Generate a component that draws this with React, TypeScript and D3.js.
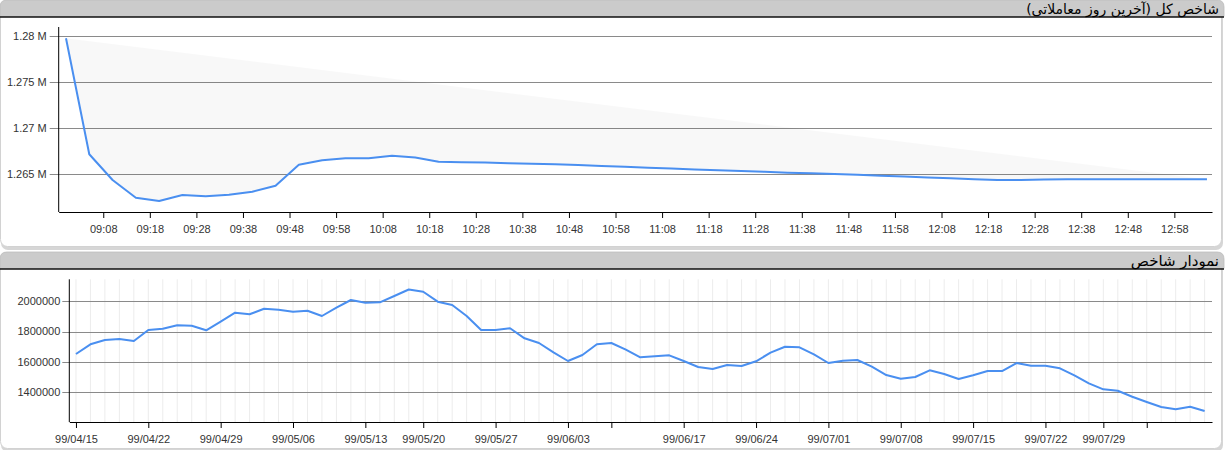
import React, { useEffect, useRef } from 'react';
import * as d3 from 'd3';

// intraday index (last trading day), one point every 5 minutes
const intradayTimes = [
  '09:00', '09:05', '09:10', '09:15', '09:20', '09:25', '09:30', '09:35', '09:40', '09:45',
  '09:50', '09:55', '10:00', '10:05', '10:10', '10:15', '10:20', '10:25', '10:30', '10:35',
  '10:40', '10:45', '10:50', '10:55', '11:00', '11:05', '11:10', '11:15', '11:20', '11:25',
  '11:30', '11:35', '11:40', '11:45', '11:50', '11:55', '12:00', '12:05', '12:10', '12:15',
  '12:20', '12:25', '12:30', '12:35', '12:40', '12:45', '12:50', '12:55', '13:00', '13:05'
];
const intradayValues = [
  1279750, 1267170, 1264380, 1262460, 1262100, 1262750, 1262610, 1262780, 1263110, 1263760,
  1266040, 1266520, 1266740, 1266740, 1267020, 1266820, 1266370, 1266310, 1266270, 1266210,
  1266150, 1266090, 1266000, 1265910, 1265810, 1265720, 1265630, 1265530, 1265430, 1265350,
  1265270, 1265180, 1265110, 1265030, 1264940, 1264840, 1264750, 1264650, 1264560, 1264470,
  1264380, 1264380, 1264430, 1264450, 1264450, 1264450, 1264450, 1264450, 1264450, 1264450
];
const intradayTickLabels = [
  '09:08', '09:18', '09:28', '09:38', '09:48', '09:58', '10:08', '10:18', '10:28', '10:38',
  '10:48', '10:58', '11:08', '11:18', '11:28', '11:38', '11:48', '11:58', '12:08', '12:18',
  '12:28', '12:38', '12:48', '12:58'
];
const intradayYTicks = [1265000, 1270000, 1275000, 1280000];

// daily index, one point per trading day
const dailyValues = [
  1652500, 1716500, 1744800, 1751400, 1738200, 1810800, 1819300, 1841700, 1839100, 1808800,
  1865500, 1924800, 1914300, 1951200, 1944600, 1931400, 1938000, 1903100, 1957800, 2008600,
  1990800, 1993400, 2035000, 2078000, 2063300, 1997400, 1975600, 1903100, 1810800, 1810800,
  1822000, 1756000, 1725000, 1663700, 1606300, 1645900, 1716400, 1725000, 1680800, 1630700,
  1637300, 1643900, 1606300, 1566800, 1553600, 1580000, 1573400, 1604300, 1661100, 1700600,
  1696700, 1650000, 1593100, 1608300, 1612900, 1568700, 1514000, 1489600, 1500800, 1545000,
  1520600, 1487600, 1512000, 1540400, 1540400, 1593100, 1575300, 1575300, 1558200, 1512000,
  1459300, 1419700, 1410500, 1370900, 1335900, 1303000, 1287800, 1305000, 1276600
];
const dailyTickIndex = [0, 5, 10, 15, 20, 24, 29, 34, 37, 42, 47, 52, 57, 62, 67, 71, 74];
const dailyTickLabels = [
  '99/04/15', '99/04/22', '99/04/29', '99/05/06', '99/05/13', '99/05/20', '99/05/27', '99/06/03', '',
  '99/06/17', '99/06/24', '99/07/01', '99/07/08', '99/07/15', '99/07/22', '99/07/29', ''
];
const dailyYTicks = [1400000, 1600000, 1800000, 2000000];

const topTitle = 'شاخص کل (آخرین روز معاملاتی)';
const bottomTitle = 'نمودار شاخص';

const WIDTH = 1226;
const HEIGHT = 450;
const PANEL_W = 1222;
const LINE_COLOR = '#4a8ff0';
const GRID_COLOR = '#8a8a8a';
const TEXT_COLOR = '#333';
const FONT = '"Liberation Sans", Arial, sans-serif';

export default function App() {
  const svgRef = useRef<SVGSVGElement>(null);

  useEffect(() => {
    if (!svgRef.current) return;
    const svg = d3.select(svgRef.current);
    svg.selectAll('*').remove();

    const drawPanel = (y0: number, y1: number, title: string, size: number) => {
      const g = svg.append('g');
      // shadow
      g.append('rect')
        .attr('x', 1).attr('y', y0 + 3)
        .attr('width', PANEL_W).attr('height', y1 - y0)
        .attr('rx', 7)
        .attr('fill', '#d6d6d6');
      // body
      g.append('rect')
        .attr('x', 0.5).attr('y', y0 + 0.5)
        .attr('width', PANEL_W - 1).attr('height', y1 - y0 - 1)
        .attr('rx', 7)
        .attr('fill', '#fff')
        .attr('stroke', '#d2d2d2');
      // header
      const hh = 16.5;
      const r = 7;
      g.append('path')
        .attr('d', `M0,${y0 + hh} L0,${y0 + r} Q0,${y0} ${r},${y0} L${PANEL_W + 2 - r},${y0} Q${PANEL_W + 2},${y0} ${PANEL_W + 2},${y0 + r} L${PANEL_W + 2},${y0 + hh} Z`)
        .attr('fill', '#cbcbcb')
        .attr('stroke', '#bdbdbd')
        .attr('stroke-width', 0.8);
      g.append('line')
        .attr('x1', 0).attr('x2', PANEL_W + 2)
        .attr('y1', y0 + hh + 0.5).attr('y2', y0 + hh + 0.5)
        .attr('stroke', '#111')
        .attr('stroke-width', 1.6);
      g.append('text')
        .attr('x', PANEL_W - 3)
        .attr('y', y0 + 13.5)
        .attr('text-anchor', 'start')
        .attr('direction', 'rtl')
        .attr('font-family', '"DejaVu Sans", sans-serif')
        .attr('font-size', `${size}px`)
        .attr('fill', '#000')
        .text(title);
    };

    drawPanel(0, 247, topTitle, 14);
    drawPanel(252, 449, bottomTitle, 15);

    // ---------- intraday chart ----------
    const parseT = d3.timeParse('%H:%M');
    const parseTs = d3.timeParse('%H:%M:%S');
    const top = { left: 58.7, right: 1212, top: 27, bottom: 212 };

    const x1 = d3.scaleTime()
      .domain([parseTs('08:58:26') as Date, parseTs('13:06:05') as Date])
      .range([top.left, top.right]);
    const y1 = d3.scaleLinear()
      .domain([1260911, 1280976])
      .range([top.bottom, top.top]);

    const g1 = svg.append('g');

    // grid
    g1.selectAll('.hgrid')
      .data(intradayYTicks)
      .enter()
      .append('line')
      .attr('x1', top.left - 9)
      .attr('x2', top.right)
      .attr('y1', d => Math.round(y1(d)) + 0.5)
      .attr('y2', d => Math.round(y1(d)) + 0.5)
      .attr('stroke', GRID_COLOR)
      .attr('stroke-width', 1);

    const pts1 = intradayTimes.map((t, i) => ({ t: parseT(t) as Date, v: intradayValues[i] }));
    const line1 = d3.line<{ t: Date; v: number }>()
      .x(d => x1(d.t))
      .y(d => y1(d.v));

    g1.append('path')
      .datum(pts1)
      .attr('d', line1)
      .attr('fill', '#000')
      .attr('fill-opacity', 0.028)
      .attr('stroke', LINE_COLOR)
      .attr('stroke-width', 2)
      .attr('stroke-linejoin', 'round');

    // y labels
    const fmtM = d3.format('~g');
    g1.selectAll('.ylab')
      .data(intradayYTicks)
      .enter()
      .append('text')
      .attr('x', top.left - 12)
      .attr('y', d => y1(d))
      .attr('dy', '0.35em')
      .attr('text-anchor', 'end')
      .attr('font-family', FONT)
      .attr('font-size', '11px')
      .attr('fill', TEXT_COLOR)
      .text(d => `${fmtM(d / 1e6)} M`);

    // x axis
    const xAxis1 = d3.axisBottom(x1)
      .tickValues(intradayTickLabels.map(s => parseT(s) as Date))
      .tickFormat(d => d3.timeFormat('%H:%M')(d as Date))
      .tickSize(6)
      .tickSizeOuter(0);
    const ax1 = g1.append('g')
      .attr('transform', `translate(0,${top.bottom})`)
      .call(xAxis1);
    ax1.select('.domain').attr('stroke', '#000');
    ax1.selectAll('.tick line').attr('stroke', '#000');
    ax1.selectAll('.tick text')
      .attr('font-family', FONT)
      .attr('font-size', '11px')
      .attr('fill', TEXT_COLOR)
      .attr('dy', '1.1em');

    g1.append('line')
      .attr('x1', top.left).attr('x2', top.left)
      .attr('y1', top.top).attr('y2', top.bottom)
      .attr('stroke', '#000');

    // ---------- daily chart ----------
    const bot = { left: 69.3, right: 1212, top: 279.3, bottom: 422 };
    const x2 = d3.scaleLinear()
      .domain([-0.46, 78.51])
      .range([bot.left, bot.right]);
    const y2 = d3.scaleLinear()
      .domain([1204154, 2145071])
      .range([bot.bottom, bot.top]);

    const g2 = svg.append('g');

    g2.selectAll('.vgrid')
      .data(dailyValues.map((_, i) => i))
      .enter()
      .append('line')
      .attr('x1', d => x2(d))
      .attr('x2', d => x2(d))
      .attr('y1', bot.top)
      .attr('y2', bot.bottom)
      .attr('stroke', '#ececec')
      .attr('stroke-width', 1);

    g2.selectAll('.hgrid')
      .data(dailyYTicks)
      .enter()
      .append('line')
      .attr('x1', bot.left - 7)
      .attr('x2', bot.right)
      .attr('y1', d => Math.round(y2(d)) + 0.5)
      .attr('y2', d => Math.round(y2(d)) + 0.5)
      .attr('stroke', GRID_COLOR)
      .attr('stroke-width', 1);

    const line2 = d3.line<number>()
      .x((_, i) => x2(i))
      .y(d => y2(d));

    g2.append('path')
      .datum(dailyValues)
      .attr('d', line2)
      .attr('fill', 'none')
      .attr('stroke', LINE_COLOR)
      .attr('stroke-width', 2)
      .attr('stroke-linejoin', 'round');

    g2.selectAll('.ylab')
      .data(dailyYTicks)
      .enter()
      .append('text')
      .attr('x', bot.left - 9)
      .attr('y', d => y2(d))
      .attr('dy', '0.35em')
      .attr('text-anchor', 'end')
      .attr('font-family', FONT)
      .attr('font-size', '11px')
      .attr('fill', TEXT_COLOR)
      .text(d => d3.format('d')(d));

    const xAxis2 = d3.axisBottom(x2)
      .tickValues(dailyTickIndex)
      .tickFormat((_, i) => dailyTickLabels[i])
      .tickSize(6)
      .tickSizeOuter(0);
    const ax2 = g2.append('g')
      .attr('transform', `translate(0,${bot.bottom})`)
      .call(xAxis2);
    ax2.select('.domain').attr('stroke', '#000');
    ax2.selectAll('.tick line').attr('stroke', '#000');
    ax2.selectAll('.tick text')
      .attr('font-family', FONT)
      .attr('font-size', '11px')
      .attr('fill', TEXT_COLOR)
      .attr('dy', '1.1em');

    g2.append('line')
      .attr('x1', bot.left).attr('x2', bot.left)
      .attr('y1', bot.top).attr('y2', bot.bottom)
      .attr('stroke', '#000');
  }, []);

  return (
    <div style={{ position: 'absolute', left: 0, top: 0, width: WIDTH, height: HEIGHT, background: '#fff' }}>
      <svg ref={svgRef} width={WIDTH} height={HEIGHT} style={{ display: 'block' }} />
    </div>
  );
}
